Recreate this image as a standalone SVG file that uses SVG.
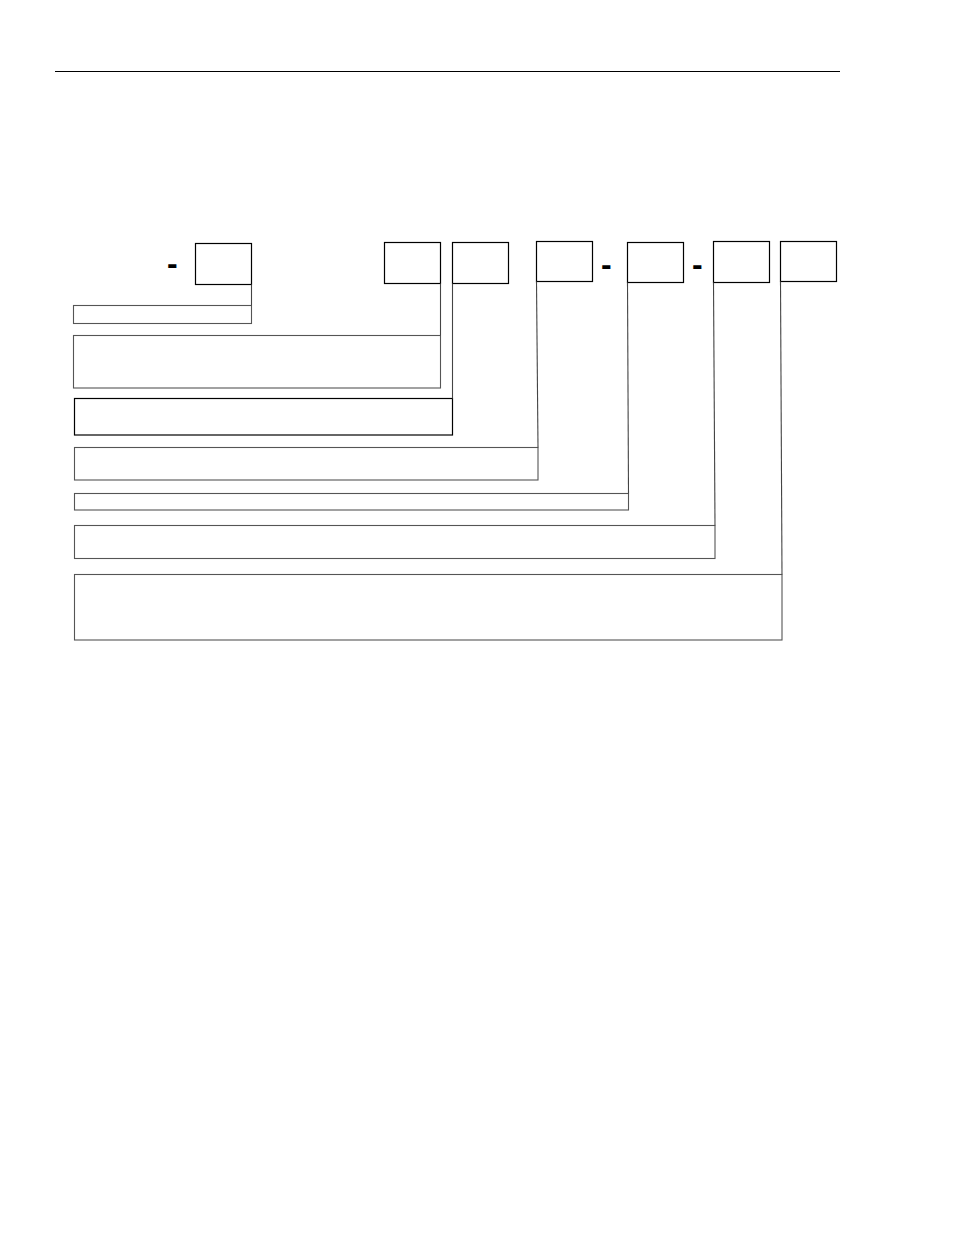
<svg xmlns="http://www.w3.org/2000/svg" width="954" height="1235" viewBox="0 0 954 1235">
<style>
.code{fill:#fff;stroke:#000;stroke-width:1.2}
.lab{fill:none;stroke:#555;stroke-width:1.1}
.con{fill:none;stroke:#444;stroke-width:1.1}
.dash{font-family:"Liberation Sans",Arial,sans-serif;font-weight:bold;font-size:32px;fill:#000}
</style>
<rect width="954" height="1235" fill="#fff"/>
<line x1="55" y1="71.5" x2="840" y2="71.5" stroke="#000" stroke-width="1.2"/>
<g id="dashes">
<text class="dash" x="167" y="274">-</text>
<text class="dash" x="601" y="275">-</text>
<text class="dash" x="692" y="275">-</text>
</g>
<g id="box1"><rect class="code" x="195.5" y="243.5" width="56" height="41"/></g>
<g id="box2"><rect class="code" x="384.5" y="242.5" width="56" height="41"/></g>
<g id="box3"><rect class="code" x="452.5" y="242.5" width="56" height="41"/></g>
<g id="box4"><rect class="code" x="536.5" y="241.5" width="56" height="40"/></g>
<g id="box5"><rect class="code" x="627.5" y="242.5" width="56" height="40"/></g>
<g id="box6"><rect class="code" x="713.5" y="241.5" width="56" height="41"/></g>
<g id="box7"><rect class="code" x="780.5" y="241.5" width="56" height="40"/></g>
<g id="label1"><rect class="lab" x="73.5" y="305.5" width="178" height="18"/></g>
<g id="label2"><rect class="lab" x="73.5" y="335.5" width="367" height="52.5"/></g>
<g id="label3"><rect class="code" x="74.5" y="398.5" width="378" height="36.5" fill="none"/></g>
<g id="label4"><rect class="lab" x="74.5" y="447.5" width="463.5" height="32.5"/></g>
<g id="label5"><rect class="lab" x="74.5" y="493.5" width="554" height="16.5"/></g>
<g id="label6"><rect class="lab" x="74.5" y="525.5" width="640.5" height="33"/></g>
<g id="label7"><rect class="lab" x="74.5" y="574.5" width="707.5" height="65.5"/></g>
<g id="connectors">
<line class="con" x1="251.5" y1="284.5" x2="251.5" y2="305.5"/>
<line class="con" x1="440.5" y1="283.5" x2="440.5" y2="335.5" stroke="#000"/>
<line class="con" x1="452.5" y1="283.5" x2="452.5" y2="398.5" stroke="#999"/>
<line class="con" x1="536.5" y1="281.5" x2="538" y2="447.5"/>
<line class="con" x1="627.5" y1="282.5" x2="628.5" y2="493.5"/>
<line class="con" x1="713.5" y1="282.5" x2="715" y2="525.5"/>
<line class="con" x1="780.5" y1="281.5" x2="782" y2="574.5"/>
</g>
</svg>
